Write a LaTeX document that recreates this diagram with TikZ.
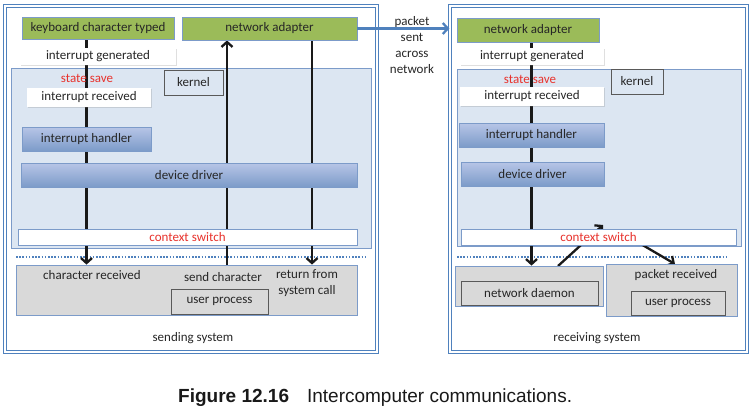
\documentclass[tikz,border=0pt]{standalone}
\usepackage{fontspec}
\setmainfont{Carlito}
\newfontfamily\capfont{Liberation Sans}
\usetikzlibrary{arrows.meta,positioning,shadows}
\definecolor{sysblue}{HTML}{4F81BD}
\definecolor{boxline}{HTML}{7C9BC9}
\definecolor{adaptgreen}{HTML}{9BBB59}
\definecolor{kernfill}{HTML}{DCE6F2}
\definecolor{procgray}{HTML}{D9D9D9}
\definecolor{stepred}{HTML}{E8322C}
\definecolor{ink}{HTML}{262626}
\pgfdeclarelayer{back}
\pgfdeclarelayer{mid}
\pgfsetlayers{back,mid,main}
\def \fs {\fontsize{13}{15.5}\selectfont}
\tikzstyle{sys} = [draw=sysblue,line width=1.3pt,double=white,double distance=1.8pt,inner sep=0]
\tikzstyle{region} = [draw=boxline,fill=kernfill,inner sep=0]
\tikzstyle{hw} = [draw=boxline,thick,fill=adaptgreen,inner sep=0,font=\fs,text=ink]
\tikzstyle{note} = [fill=white,inner sep=0,font=\fs,text=ink,drop shadow={opacity=0.25,shadow xshift=1pt,shadow yshift=-1pt}]
\tikzstyle{handler} = [draw=boxline,top color=blue!10!boxline!50,bottom color=boxline,inner sep=0,font=\fs,text=ink,drop shadow={opacity=0.3,shadow xshift=1pt,shadow yshift=-1pt}]
\tikzstyle{switchbox} = [draw=boxline,thick,fill=white,inner sep=0,font=\fs,text=stepred]
\tikzstyle{proc} = [draw=boxline,thick,fill=procgray,inner sep=0]
\tikzstyle{tag} = [draw=black!65,thick,inner sep=0,font=\fs,text=ink]
\tikzstyle{label} = [inner sep=0,font=\fs,text=ink,align=center]
\tikzstyle{flow} = [line width=2.3pt,black!90,-{Straight Barb[length=5pt,width=11pt]}]
\tikzstyle{split} = [sysblue,line width=1.8pt,dash pattern=on 1.6pt off 1.6pt]

\begin{document}
\begin{tikzpicture}[x=1pt,y=-1pt]
  \useasboundingbox (0,0) rectangle (753,415);
  \begin{pgfonlayer}{back}
    \node[sys,minimum width=372pt,minimum height=346pt] (sendSys) at (191,179) {};
    \node[sys,minimum width=297pt,minimum height=346pt] (recvSys) at (598.5,179) {};
    \node[region,minimum width=360pt,minimum height=180pt] (kernL) at (191,158) {};
    \node[region,minimum width=284pt,minimum height=177pt] (kernR) at (599,157.5) {};
    \draw[split] (16,257) -- (365,257);
    \draw[split] (457,257) -- (728,257);
  \end{pgfonlayer}

  % sending system
  \node[hw,minimum width=152pt,minimum height=22pt] (kbdL) at (98,28) {keyboard character typed};
  \node[hw,minimum width=175pt,minimum height=23pt] (nadL) at (269.5,28.5) {network adapter};
  \node[note,minimum width=156pt,minimum height=17pt] (igenL) at (98,56.5) {interrupt generated};
  \node[label,text=stepred] (saveL) at (87,78) {state save};
  \node[tag,minimum width=59pt,minimum height=25pt] (kwL) at (193.5,82.5) {kernel};
  \node[note,minimum width=124pt,minimum height=19pt] (irecL) at (89,97.5) {interrupt received};
  \node[handler,minimum width=129pt,minimum height=24pt] (ihL) at (86.5,139) {interrupt handler};
  \node[handler,minimum width=336pt,minimum height=24pt] (ddL) at (189,175) {device driver};
  \node[switchbox,minimum width=339pt,minimum height=16pt] (csL) at (187.5,237) {context switch};
  \node[proc,minimum width=341pt,minimum height=50pt] (procL) at (186.5,290) {};
  \node[label] (chrL) at (92,275) {character received};
  \node[label] (sndL) at (223,277) {send character};
  \node[label] (retL) at (307,283) {return from\\system call};
  \node[tag,fill=procgray,minimum width=97pt,minimum height=25pt] (upL) at (219.5,301.5) {user process};
  \node[label] at (193,338) {sending system};

  % receiving system
  \node[hw,minimum width=142pt,minimum height=24pt] (nadR) at (528,30) {network adapter};
  \node[note,minimum width=144pt,minimum height=17pt] (igenR) at (532,56.5) {interrupt generated};
  \node[label,text=stepred] (saveR) at (530,79) {state save};
  \node[tag,minimum width=52pt,minimum height=25pt] (kwR) at (637,81.5) {kernel};
  \node[note,minimum width=144pt,minimum height=19pt] (irecR) at (532,96.5) {interrupt received};
  \node[handler,minimum width=145pt,minimum height=24pt] (ihR) at (531.5,135) {interrupt handler};
  \node[handler,minimum width=143pt,minimum height=24pt] (ddR) at (532.5,174) {device driver};
  \node[switchbox,minimum width=275pt,minimum height=16pt] (csR) at (598.5,237) {context switch};
  \node[proc,minimum width=148pt,minimum height=40pt] (ndR) at (529,286) {};
  \node[tag,fill=procgray,minimum width=137pt,minimum height=24pt] (dmnR) at (529.5,293) {network daemon};
  \node[proc,minimum width=131pt,minimum height=52pt] (prR) at (671.5,290) {};
  \node[label] (pktR) at (676,275) {packet received};
  \node[tag,fill=procgray,minimum width=94pt,minimum height=24pt] (upR) at (678,303) {user process};
  \node[label] at (597,338) {receiving system};

  \node[label,font=\fontsize{13}{16}\selectfont] (net) at (412,45) {packet\\sent\\across\\network};

  \coordinate (sendX) at (227,0);
  \coordinate (retX) at (312,0);
  \coordinate (dmnOut) at (558,266);
  \coordinate (dmnTip) at (603,225);
  \coordinate (swOut) at (622,233);
  \coordinate (pktIn) at (675,264);

  \begin{pgfonlayer}{mid}
    \draw[flow] (kbdL.south -| ihL) -- (ihL |- procL.north);
    \draw[flow] (procL.north -| sendX) -- (nadL.south -| sendX);
    \draw[flow] (nadL.south -| retX) -- (procL.north -| retX);
    \draw[flow] (nadR.south -| ihR) -- (ihR |- ndR.north);
    \draw[flow] (dmnOut) -- (dmnTip);
    \draw[flow] (swOut) -- (pktIn);
  \end{pgfonlayer}
  \draw[sysblue,line width=2.3pt,-{Straight Barb[length=5pt,width=11pt]}] (nadL.east) -- (nadL.east -| recvSys.west);

  \node[anchor=west,inner sep=0,text=black!90,font=\capfont\fontsize{19}{22}\selectfont] (cap) at (178,398)
    {\textbf{Figure 12.16}\hspace{18pt}Intercomputer communications.};
\end{tikzpicture}
\end{document}
